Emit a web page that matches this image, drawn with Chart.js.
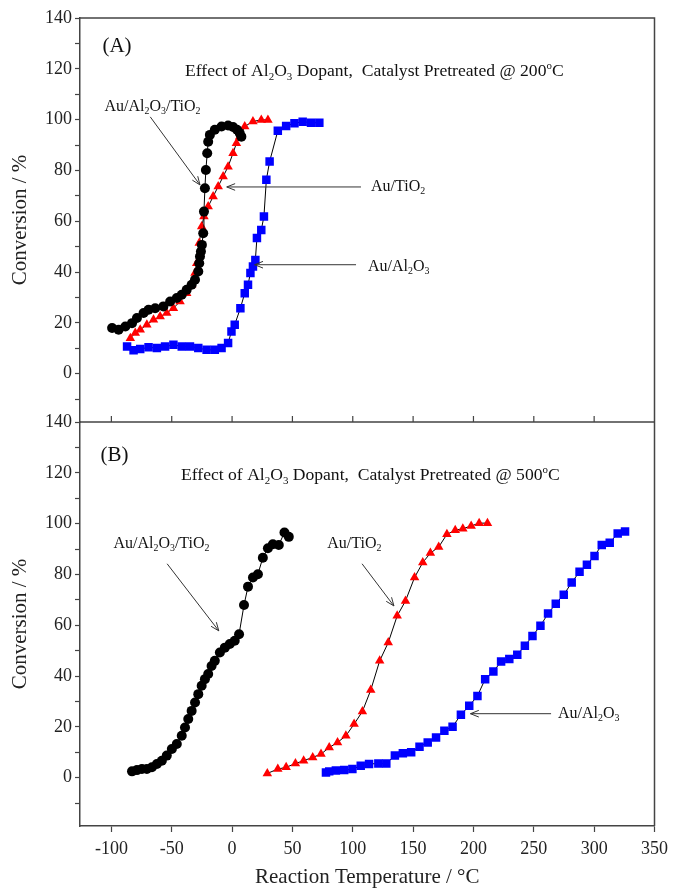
<!DOCTYPE html>
<html>
<head>
<meta charset="utf-8">
<script src="https://cdn.jsdelivr.net/npm/chart.js@4/dist/chart.umd.min.js"></script>
<style>
  html, body { margin: 0; padding: 0; background: #fff; }
  canvas { display: block; }
</style>
</head>
<body>
<canvas id="chart" width="674" height="892"></canvas>
<script>
// ---- data ----
// panel (A): catalyst pretreated @ 200 C
const tempA_AuAlTi = [-99.4, -94, -88.4, -82.9, -78.8, -73.3, -69.2, -63.7, -56.9, -51.3, -45.8, -41.7, -37.6, -33.5, -30.7, -28.0, -27.2, -26.6, -25.8, -25.0, -23.9, -23.3, -22.5, -21.7, -20.6, -19.8, -18.4, -14.3, -8.7, -3.3, 0.8, 4.1, 6.3, 7.7];
const convA_AuAlTi = [18.0, 17.3, 18.6, 19.9, 21.9, 23.9, 25.2, 25.8, 26.5, 28.4, 29.8, 31.1, 33.0, 35.0, 37.0, 40.2, 43.5, 46.1, 48.1, 50.7, 55.3, 63.8, 73.0, 80.2, 86.8, 91.3, 94.0, 96.0, 97.3, 97.7, 97.1, 96.0, 94.7, 93.3];

const tempA_AuTi = [-84.3, -80.2, -76.1, -70.6, -65.1, -59.6, -54.1, -48.6, -43.1, -37.6, -33.5, -30.7, -29.3, -27.2, -25.2, -23.3, -19.8, -15.7, -11.5, -7.4, -3.3, 0.8, 3.6, 6.3, 10.5, 17.3, 24.2, 29.7];
const convA_AuTi = [14.0, 16.0, 17.3, 19.3, 21.2, 22.5, 23.9, 25.8, 28.4, 31.7, 35.0, 39.6, 43.5, 51.4, 57.9, 61.9, 65.8, 69.7, 73.7, 77.6, 81.5, 86.8, 90.7, 93.3, 97.3, 99.3, 99.9, 99.9];

const tempA_AuAl = [-87.0, -81.6, -76.1, -69.2, -62.3, -55.5, -48.6, -41.7, -34.9, -28.0, -21.1, -14.3, -8.7, -3.3, -0.5, 2.2, 6.9, 10.5, 13.2, 15.2, 17.3, 19.3, 20.6, 24.2, 26.4, 28.4, 31.1, 37.9, 44.8, 51.7, 58.5, 65.4, 72.3];
const convA_AuAl = [10.7, 9.2, 9.7, 10.4, 10.1, 10.7, 11.4, 10.7, 10.7, 10.1, 9.4, 9.4, 10.1, 12.1, 16.6, 19.3, 25.8, 31.7, 35.0, 39.6, 42.2, 44.8, 53.4, 56.6, 61.9, 76.3, 83.5, 95.6, 97.5, 98.6, 99.2, 98.8, 98.8];

// panel (B): catalyst pretreated @ 500 C
const tempB_AuAlTi = [-82.9, -78.8, -74.7, -70.6, -66.4, -62.3, -58.2, -54.1, -49.9, -45.8, -41.7, -39.0, -36.3, -33.5, -30.7, -28.0, -25.2, -22.5, -19.8, -17.0, -14.3, -10.1, -6.0, -1.9, 2.2, 5.8, 9.9, 13.2, 17.3, 21.4, 25.5, 29.7, 33.8, 38.7, 43.4, 47.0];
const convB_AuAlTi = [2.5, 3.0, 3.4, 3.4, 4.1, 5.4, 6.7, 8.7, 11.3, 13.3, 16.5, 19.8, 23.1, 26.3, 29.6, 32.9, 36.2, 38.8, 40.8, 44.0, 46.0, 49.3, 51.2, 52.6, 53.9, 56.5, 68.0, 75.2, 78.8, 80.1, 86.6, 90.3, 91.9, 91.6, 96.5, 94.8];

const tempB_AuTi = [29.2, 37.9, 44.8, 52.5, 59.3, 66.8, 73.7, 80.5, 87.4, 94.3, 101.1, 108.0, 114.9, 122.3, 129.4, 136.8, 143.7, 151.2, 158.0, 164.3, 171.2, 178.0, 184.9, 191.2, 198.1, 204.7, 211.6];
const convB_AuTi = [1.7, 3.4, 4.1, 5.6, 6.7, 8.0, 9.3, 11.9, 13.9, 16.5, 21.1, 26.1, 34.5, 46.0, 53.2, 63.7, 69.6, 78.8, 84.7, 88.4, 90.8, 95.8, 97.4, 98.0, 99.1, 100.2, 100.2];

const tempB_AuAl = [77.8, 80.5, 86.0, 92.9, 99.7, 106.6, 113.5, 121.2, 127.8, 134.9, 141.5, 148.4, 155.3, 162.1, 169.0, 175.9, 182.7, 189.6, 196.5, 203.3, 209.7, 216.5, 222.9, 229.7, 236.3, 242.6, 248.9, 255.5, 261.8, 268.2, 274.8, 281.4, 287.9, 294.0, 300.3, 306.3, 312.9, 319.5, 325.6];
const convB_AuAl = [2.1, 2.5, 2.8, 3.0, 3.4, 4.7, 5.4, 5.6, 5.6, 8.7, 9.6, 10.0, 12.2, 13.9, 15.8, 18.5, 20.1, 24.8, 28.3, 32.2, 38.8, 41.8, 45.7, 46.7, 48.4, 51.9, 55.8, 59.8, 64.6, 68.5, 72.0, 76.8, 81.1, 83.8, 87.3, 91.6, 92.5, 96.1, 96.9];

// ticks
const xTickValues = [-100, -50, 0, 50, 100, 150, 200, 250, 300, 350];
const yTickValues = [-10, 0, 10, 20, 30, 40, 50, 60, 70, 80, 90, 100, 110, 120, 130, 140];
const yTickLabels = [0, 20, 40, 60, 80, 100, 120, 140];

const SERIF = "'Liberation Serif', 'Times New Roman', serif";
const AXIS = '#444';

function pts(xs, ys) {
  return xs.map((x, i) => ({ x: x, y: ys[i] }));
}

function series(xs, ys, yAxis, color, style, r) {
  return {
    data: pts(xs, ys),
    yAxisID: yAxis,
    showLine: true,
    borderColor: '#000',
    borderWidth: 1,
    pointStyle: style,
    pointRadius: r,
    pointHoverRadius: r,
    pointBackgroundColor: color,
    pointBorderColor: color,
    pointBorderWidth: 0
  };
}

// draw text with sub/superscripts: parts = [[text, 'sub'|'sup'|undefined], ...]
function richText(ctx, parts, x, y, size) {
  ctx.textBaseline = 'middle';
  ctx.textAlign = 'left';
  let cx = x;
  parts.forEach(([t, mode]) => {
    if (mode) {
      ctx.font = `${size * 0.62}px ${SERIF}`;
      const dy = mode === 'sub' ? size * 0.3 : -size * 0.35;
      ctx.fillText(t, cx, y + dy);
    } else {
      ctx.font = `${size}px ${SERIF}`;
      ctx.fillText(t, cx, y);
    }
    cx += ctx.measureText(t).width;
  });
}

function arrow(ctx, x1, y1, x2, y2) {
  const ang = Math.atan2(y2 - y1, x2 - x1);
  const len = 9, spread = 0.38;
  ctx.beginPath();
  ctx.moveTo(x1, y1);
  ctx.lineTo(x2, y2);
  ctx.moveTo(x2 - len * Math.cos(ang - spread), y2 - len * Math.sin(ang - spread));
  ctx.lineTo(x2, y2);
  ctx.lineTo(x2 - len * Math.cos(ang + spread), y2 - len * Math.sin(ang + spread));
  ctx.stroke();
}

const labAuAlTi = [['Au/Al'], ['2', 'sub'], ['O'], ['3', 'sub'], ['/TiO'], ['2', 'sub']];
const labAuTi = [['Au/TiO'], ['2', 'sub']];
const labAuAl = [['Au/Al'], ['2', 'sub'], ['O'], ['3', 'sub']];
const effect = t => [['Effect of Al'], ['2', 'sub'], ['O'], ['3', 'sub'], [' Dopant,  Catalyst Pretreated @ ' + t], ['o', 'sup'], ['C']];

const panelNotes = {
  id: 'panelNotes',
  afterDraw(chart) {
    const { ctx, chartArea: a, scales } = chart;
    const x = scales.x, yA = scales.yA, yB = scales.yB;
    ctx.save();
    // frame: top, right and the divider between the panels
    ctx.strokeStyle = AXIS;
    ctx.lineWidth = 1.5;
    ctx.beginPath();
    ctx.moveTo(a.left, a.top);
    ctx.lineTo(a.right, a.top);
    ctx.lineTo(a.right, a.bottom);
    ctx.moveTo(a.left, yA.bottom);
    ctx.lineTo(a.right, yA.bottom);
    ctx.stroke();
    ctx.lineWidth = 1.2;
    ctx.beginPath();
    xTickValues.forEach(v => {
      const px = x.getPixelForValue(v);
      if (px > a.left + 1 && px < a.right - 1) {
        ctx.moveTo(px, yA.bottom);
        ctx.lineTo(px, yA.bottom - 6);
      }
    });
    ctx.stroke();

    // texts
    ctx.fillStyle = '#111';
    const X = v => x.getPixelForValue(v);
    richText(ctx, [['(A)']], X(-107.4), yA.getPixelForValue(128.6), 21);
    richText(ctx, [['(B)']], X(-109), yB.getPixelForValue(127.0), 21);
    richText(ctx, effect('200'), X(-39), yA.getPixelForValue(118.8), 17.6);
    richText(ctx, effect('500'), X(-42.3), yB.getPixelForValue(118.8), 17.6);

    richText(ctx, labAuAlTi, X(-105.7), yA.getPixelForValue(105), 16);
    richText(ctx, labAuTi, X(115.1), yA.getPixelForValue(73.5), 16);
    richText(ctx, labAuAl, X(112.6), yA.getPixelForValue(42.1), 16);
    richText(ctx, labAuAlTi, X(-98.3), yB.getPixelForValue(92.0), 16);
    richText(ctx, labAuTi, X(78.9), yB.getPixelForValue(92.0), 16);
    richText(ctx, labAuAl, X(270.1), yB.getPixelForValue(25.2), 16);

    // arrows
    ctx.strokeStyle = '#333';
    ctx.lineWidth = 1;
    arrow(ctx, X(-67.8), yA.getPixelForValue(101.1), X(-26.6), yA.getPixelForValue(74.3));
    arrow(ctx, X(106.8), yA.getPixelForValue(73.5), X(-4.4), yA.getPixelForValue(73.5));
    arrow(ctx, X(102.7), yA.getPixelForValue(42.9), X(18.7), yA.getPixelForValue(42.9));
    arrow(ctx, X(-53.8), yB.getPixelForValue(84.2), X(-11), yB.getPixelForValue(57.8));
    arrow(ctx, X(107.7), yB.getPixelForValue(84.2), X(134.1), yB.getPixelForValue(67.6));
    arrow(ctx, X(264.3), yB.getPixelForValue(25.2), X(197.5), yB.getPixelForValue(25.2));
    ctx.restore();
  }
};

function yScale() {
  return {
    type: 'linear',
    position: 'left',
    stack: 'panels',
    stackWeight: 1,
    min: -19,
    max: 140,
    afterFit: s => { s.width = 80; },
    afterBuildTicks: s => { s.ticks = yTickValues.map(v => ({ value: v })); },
    grid: { drawOnChartArea: false, tickLength: 5, tickColor: AXIS, tickWidth: 1.2 },
    border: { color: AXIS, width: 1.5 },
    ticks: {
      autoSkip: false,
      padding: 3,
      color: '#222',
      font: { family: SERIF, size: 18 },
      callback: v => (yTickLabels.includes(v) ? String(v) : '')
    },
    title: {
      display: true,
      text: 'Conversion / %',
      color: '#222',
      font: { family: SERIF, size: 21 },
      padding: { top: 8, bottom: 0 }
    }
  };
}

new Chart(document.getElementById('chart').getContext('2d'), {
  type: 'scatter',
  data: {
    datasets: [
      series(tempA_AuAlTi, convA_AuAlTi, 'yA', '#000', 'circle', 5),
      series(tempA_AuTi, convA_AuTi, 'yA', '#ff0000', 'triangle', 5.5),
      series(tempA_AuAl, convA_AuAl, 'yA', '#0000ff', 'rect', 6),
      series(tempB_AuAlTi, convB_AuAlTi, 'yB', '#000', 'circle', 5),
      series(tempB_AuTi, convB_AuTi, 'yB', '#ff0000', 'triangle', 5.5),
      series(tempB_AuAl, convB_AuAl, 'yB', '#0000ff', 'rect', 6)
    ]
  },
  options: {
    responsive: false,
    animation: false,
    devicePixelRatio: 1,
    layout: { padding: { top: 18, right: 16, left: 0, bottom: 0 } },
    plugins: { legend: { display: false }, tooltip: { enabled: false } },
    scales: {
      x: {
        type: 'linear',
        position: 'bottom',
        min: -126,
        max: 350,
        afterFit: s => { s.height = 66; },
        afterBuildTicks: s => { s.ticks = xTickValues.map(v => ({ value: v })); },
        grid: { drawOnChartArea: false, tickLength: 6, tickColor: AXIS, tickWidth: 1.2 },
        border: { color: AXIS, width: 1.5 },
        ticks: {
          autoSkip: false,
          maxRotation: 0,
          padding: 6,
          color: '#222',
          font: { family: SERIF, size: 18 }
        },
        title: {
          display: true,
          text: 'Reaction Temperature / °C',
          color: '#222',
          font: { family: SERIF, size: 21 },
          padding: { top: 0, bottom: 2 }
        }
      },
      // the stack places the later scale on top
      yB: yScale(),
      yA: yScale()
    }
  },
  plugins: [panelNotes]
});
</script>
</body>
</html>
